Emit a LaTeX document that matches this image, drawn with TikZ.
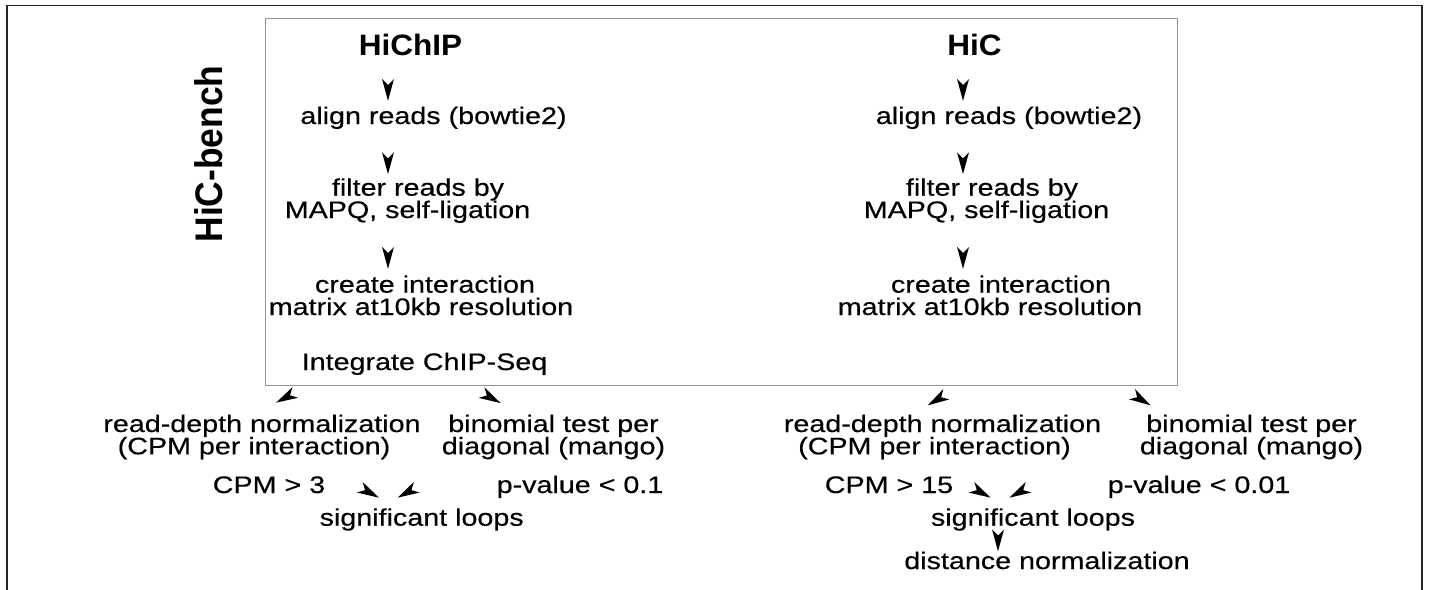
\documentclass[tikz,border=0pt]{standalone}
\usepackage{fontspec}
\setmainfont{Liberation Sans}
\newfontfamily\bodyfont[FakeStretch=1.2,FakeBold=0.4,Ligatures=CommonOff]{Liberation Sans}
\newfontfamily\headfont[FakeStretch=1.07]{Liberation Sans}
\newfontfamily\benchfont[FakeStretch=0.92]{Liberation Sans}
\usetikzlibrary{decorations.markings,calc}

% fixed first-line height, so every north anchor sits 18pt above the first baseline
\newcommand\topline{\rule{0pt}{18pt}}
% small sideways nudge of a single centred line
\newcommand\nudge[1]{\hspace*{#1pt}}

\begin{document}
\begin{tikzpicture}[x=1pt,y=-1pt,
  stage/.style={inner sep=0pt, outer sep=0pt, anchor=north, align=center,
    font={\bodyfont\fontsize{23.9}{22.3}\selectfont\lineskiplimit=-50pt}},
  headline/.style={inner sep=0pt, anchor=base,
    font={\headfont\bfseries\fontsize{29.5}{30}\selectfont}},
  frameline/.style={draw=black!85, line width=1.4pt},
  panel/.style={draw=black!42, line width=1.2pt, inner sep=0pt, anchor=north west},
  % only the arrowhead of a connector is shown: a narrow notched dart whose
  % point lies #1 before the end of the (undrawn) path
  headat/.style={decorate, decoration={markings,
    mark=at position -#1 with {\fill[black] (0.8pt,0pt) -- (-21pt,6pt)
      -- (-15pt,0pt) -- (-21pt,-6pt) -- cycle;}}},
]
\useasboundingbox (0,0) rectangle (1429,589);

% outer frame, open at the bottom
\draw[frameline] (7,592) -- (7,5.5) -- (1422,5.5) -- (1422,592);
% pipeline panel
\node[panel, minimum width=912pt, minimum height=367pt] (box) at (265,18) {};

% side label
\node[inner sep=0pt, anchor=base, rotate=90,
  font={\benchfont\bfseries\fontsize{38.5}{40}\selectfont}] (bench) at (222,154) {HiC-bench};

% column titles
\node[headline] (ti1) at (410.5,55) {HiChIP};
\node[headline] (ti2) at (974.5,55) {HiC};

% HiChIP column
\node[stage] (al1) at (433.5,106) {\topline align reads (bowtie2)};
\node[stage] (fr1) at (412.75,177.7) {\nudge{10.5}\topline filter reads by\\\nudge{-10.5}MAPQ, self-ligation};
\node[stage] (cm1) at (423,274.7) {\nudge{4}\topline create interaction\\\nudge{-4}matrix at10kb resolution};
\node[stage] (ig1) at (424.5,352) {\topline Integrate ChIP-Seq};

% HiC column
\node[stage] (al2) at (1009,106) {\topline align reads (bowtie2)};
\node[stage] (fr2) at (989.25,177.7) {\nudge{5.5}\topline filter reads by\\\nudge{-5.5}MAPQ, self-ligation};
\node[stage] (cm2) at (995.5,274.7) {\nudge{11}\topline create interaction\\\nudge{-11}matrix at10kb resolution};

% HiChIP loop calling
\node[stage] (rd1) at (258,414) {\nudge{8}\topline read-depth normalization\\\nudge{-8}(CPM per interaction)};
\node[stage] (bn1) at (553.5,414) {\topline binomial test per\\diagonal (mango)};
\node[stage] (cp1) at (269,475) {\topline CPM > 3};
\node[stage] (pv1) at (580,475) {\topline p-value < 0.1};
\node[stage] (sg1) at (421.7,507.7) {\topline significant loops};

% HiC loop calling
\node[stage] (rd2) at (938.5,414) {\nudge{8}\topline read-depth normalization\\\nudge{-8}(CPM per interaction)};
\node[stage] (bn2) at (1251.5,414) {\topline binomial test per\\diagonal (mango)};
\node[stage] (cp2) at (889,475) {\topline CPM > 15};
\node[stage] (pv2) at (1199,475) {\topline p-value < 0.01};
\node[stage] (sg2) at (1033,507.7) {\topline significant loops};
\node[stage] (dn) at (1047,551) {\topline distance normalization};

% arrow columns
\coordinate (colL) at (388,0);
\coordinate (colR) at (963,0);
\coordinate (colD) at (998,0);

% column steps
\path[headat=6pt]   (ti1.south -| colL) -- (al1.north -| colL);
\path[headat=4.4pt] (al1.south -| colL) -- (fr1.north -| colL);
\path[headat=6.7pt] (fr1.south -| colL) -- (cm1.north -| colL);
\path[headat=6pt]   (ti2.south -| colR) -- (al2.north -| colR);
\path[headat=4.4pt] (al2.south -| colR) -- (fr2.north -| colR);
\path[headat=6.7pt] (fr2.south -| colR) -- (cm2.north -| colR);

% branching into the two normalisations
\path[headat=25pt]   (ig1) -- ([xshift=-3.4pt,shift={(27.9:40pt)}]rd1.north) -- ([xshift=-3.4pt]rd1.north);
\path[headat=23.4pt] (ig1) -- ([xshift=-33pt,shift={(151.2:40pt)}]bn1.north) -- ([xshift=-33pt]bn1.north);
\path[headat=17.5pt] (cm2) -- ([xshift=-25.2pt,shift={(30.9:40pt)}]rd2.north) -- ([xshift=-25.2pt]rd2.north);
\path[headat=17.5pt] (cm2) -- ([xshift=-86.5pt,shift={(149:40pt)}]bn2.north) -- ([xshift=-86.5pt]bn2.north);

% thresholds into significant loops
\path[headat=21.7pt] (cp1) -- ([xshift=-24.4pt,shift={(151.4:40pt)}]sg1.north) -- ([xshift=-24.4pt]sg1.north);
\path[headat=21.8pt] (pv1) -- ([xshift=-42.6pt,shift={(28.5:40pt)}]sg1.north) -- ([xshift=-42.6pt]sg1.north);
\path[headat=21.7pt] (cp2) -- ([xshift=-24pt,shift={(151.4:40pt)}]sg2.north) -- ([xshift=-24pt]sg2.north);
\path[headat=21.7pt] (pv2) -- ([xshift=-42pt,shift={(28.6:40pt)}]sg2.north) -- ([xshift=-42pt]sg2.north);

% final step
\path[headat=0.5pt] (sg2.south -| colD) -- (dn.north -| colD);
\end{tikzpicture}
\end{document}
